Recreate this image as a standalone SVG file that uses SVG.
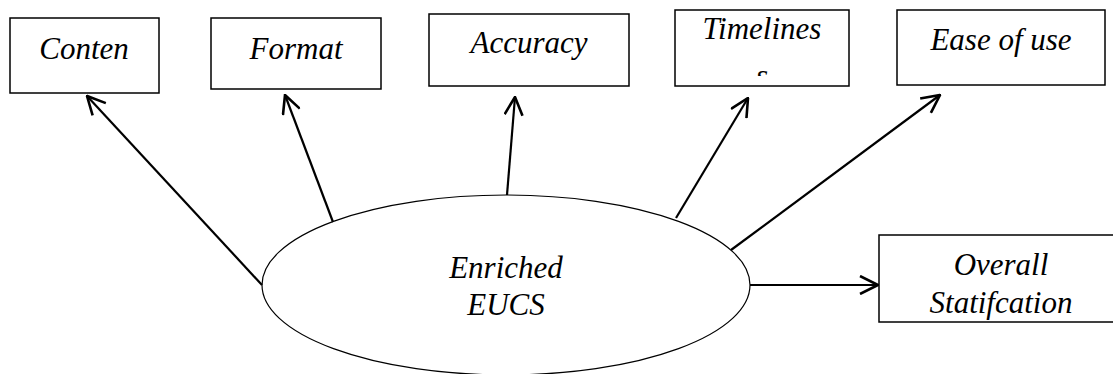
<svg xmlns="http://www.w3.org/2000/svg" width="1113" height="374" viewBox="0 0 1113 374">
<defs>
<marker id="arr" viewBox="0 0 20 20" refX="19" refY="10" markerWidth="20" markerHeight="20" markerUnits="userSpaceOnUse" orient="auto">
<path d="M1,1 L19,10 L1,19" fill="none" stroke="#000" stroke-width="2.6"/>
</marker>
<clipPath id="clipT"><rect x="676" y="11" width="172" height="65"/></clipPath>
</defs>
<rect width="1113" height="374" fill="#fff"/>
<g id="conten"><rect x="10" y="18" width="149" height="75" fill="#fff" stroke="#000" stroke-width="1.5"/><text x="84" y="59" font-family="Times New Roman, serif" font-style="italic" font-size="31" text-anchor="middle">Conten</text></g>
<g id="format"><rect x="211" y="18" width="170" height="71" fill="#fff" stroke="#000" stroke-width="1.5"/><text x="296" y="59" font-family="Times New Roman, serif" font-style="italic" font-size="31" text-anchor="middle">Format</text></g>
<g id="accuracy"><rect x="429" y="14" width="200" height="72" fill="#fff" stroke="#000" stroke-width="1.5"/><text x="529" y="53" font-family="Times New Roman, serif" font-style="italic" font-size="31" text-anchor="middle">Accuracy</text></g>
<g id="timelines"><rect x="675" y="10" width="174" height="76" fill="#fff" stroke="#000" stroke-width="1.5"/><g clip-path="url(#clipT)"><text x="762" y="39" font-family="Times New Roman, serif" font-style="italic" font-size="31" text-anchor="middle">Timelines</text><text x="762" y="86" font-family="Times New Roman, serif" font-style="italic" font-size="31" text-anchor="middle">s</text></g></g>
<g id="ease"><rect x="897" y="10" width="208" height="75" fill="#fff" stroke="#000" stroke-width="1.5"/><text x="1001" y="50" font-family="Times New Roman, serif" font-style="italic" font-size="31" text-anchor="middle">Ease of use</text></g>
<g id="overall"><rect x="879" y="235" width="240" height="87" fill="#fff" stroke="#000" stroke-width="1.5"/><text x="1001" y="275" font-family="Times New Roman, serif" font-style="italic" font-size="31" text-anchor="middle">Overall</text><text x="1001" y="313" font-family="Times New Roman, serif" font-style="italic" font-size="31" text-anchor="middle">Statifcation</text></g>
<g id="eucs"><ellipse cx="506" cy="285" rx="244" ry="90" fill="#fff" stroke="#000" stroke-width="1.2"/><text x="506" y="278" font-family="Times New Roman, serif" font-style="italic" font-size="31" text-anchor="middle">Enriched</text><text x="506" y="315" font-family="Times New Roman, serif" font-style="italic" font-size="31" text-anchor="middle">EUCS</text></g>
<g id="connectors" stroke="#000" stroke-width="2.2" fill="none">
<line x1="262" y1="285" x2="87" y2="96" marker-end="url(#arr)"/>
<line x1="333" y1="222" x2="285" y2="95" marker-end="url(#arr)"/>
<line x1="507" y1="195" x2="515" y2="97" marker-end="url(#arr)"/>
<line x1="676" y1="218" x2="748" y2="98" marker-end="url(#arr)"/>
<line x1="731" y1="250" x2="940" y2="95" marker-end="url(#arr)"/>
<line x1="750" y1="285" x2="878" y2="285" marker-end="url(#arr)"/>
</g>
</svg>
